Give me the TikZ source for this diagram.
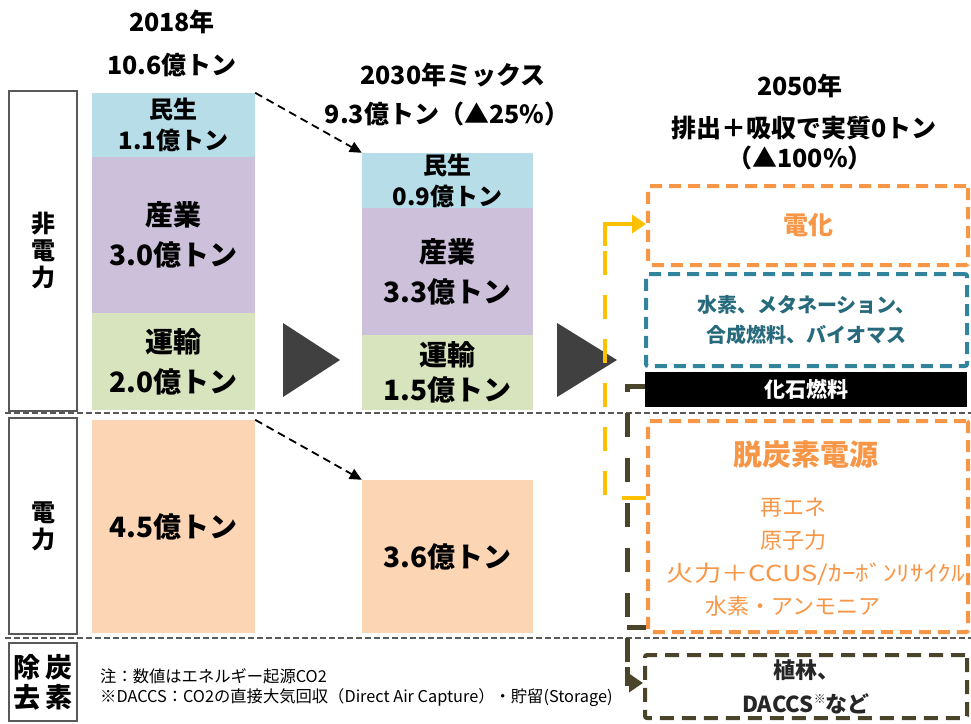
\documentclass[tikz,border=0pt]{standalone}
\usepackage{fontspec}
\setmainfont{Noto Sans CJK JP}
\usetikzlibrary{arrows.meta}
\definecolor{cblue}{HTML}{B7DDE8}
\definecolor{clav}{HTML}{CCC0DA}
\definecolor{cgreen}{HTML}{D7E4BD}
\definecolor{cpeach}{HTML}{FCD5B5}
\definecolor{corange}{HTML}{F79646}
\definecolor{cteal}{HTML}{31849B}
\definecolor{ctealtxt}{HTML}{276A7C}
\definecolor{colive}{HTML}{4A452A}
\definecolor{cyellow}{HTML}{FFC000}
\definecolor{cgray}{HTML}{595959}
\definecolor{ctri}{HTML}{404040}
\newcommand\fsz[2]{\fontsize{#1}{#2}\selectfont}
\begin{document}
\begin{tikzpicture}[x=1pt,y=-1pt,
  lbl/.style={draw=cgray, line width=2pt, inner sep=0pt, align=center, font=\bfseries\fsz{24}{27}},
  bar/.style={draw=none, inner sep=0pt, align=center, minimum width=163pt},
  barb/.style={draw=none, inner sep=0pt, align=center, minimum width=171pt},
  small/.style={font=\bfseries\fsz{24}{31}},
  big/.style={font=\bfseries\fsz{28}{40}},
  hdr/.style={inner sep=0pt, font=\bfseries\fsz{25}{28}},
  obox/.style={draw=corange, line width=4pt, dash pattern=on 12pt off 7pt, rounded corners=2pt, inner sep=0pt},
  tbox/.style={draw=cteal, line width=4pt, dash pattern=on 12pt off 7pt, rounded corners=2pt, inner sep=0pt},
  gbox/.style={draw=colive, line width=4pt, dash pattern=on 14pt off 8pt, rounded corners=2pt, inner sep=0pt},
  tri/.style={fill=ctri},
  sep/.style={draw=cgray, line width=1.5pt, dash pattern=on 6pt off 3pt},
  darr/.style={draw=black, line width=1.8pt, dash pattern=on 8pt off 5pt, -{Triangle[length=12pt,width=11pt]}},
  ycon/.style={draw=cyellow, line width=4.5pt, dash pattern=on 24pt off 20pt},
  ocon/.style={draw=colive, line width=5pt, dash pattern=on 24pt off 21pt},
  note/.style={inner sep=0pt, anchor=west, font=\fsz{16.3}{20}}
]
\useasboundingbox (0,0) rectangle (971,723);

% separators
\draw[sep] (5,413) -- (971,413);
\draw[sep] (5,638) -- (971,638);

% left labels
\node[lbl, minimum width=68pt, minimum height=320pt] (lab1) at (43,251) {非\\電\\力};
\node[lbl, minimum width=68pt, minimum height=216pt] (lab2) at (43,526) {電\\力};
\node[lbl, minimum width=68pt, minimum height=78pt, font=\bfseries\fsz{27}{30}] (lab3) at (43,682) {除\hspace{5pt}炭\\去\hspace{5pt}素};

% headers
\node[hdr] (h18a) at (172,22) {2018年};
\node[hdr] (h18b) at (172,65) {10.6億トン};
\node[hdr] (h30a) at (453,75) {2030年ミックス};
\node[hdr] (h30b) at (447,114) {9.3億トン（▲25\%）};
\node[hdr] (h50a) at (800,86) {2050年};
\node[hdr] (h50b) at (804,128) {排出＋吸収で実質0トン};
\node[hdr] (h50c) at (800,158) {（▲100\%）};

% 2018 bars
\node[bar, fill=cblue, minimum height=64pt, small] (b18a) at (173.5,125) {民生\\1.1億トン};
\node[bar, fill=clav, minimum height=156pt, big] (b18b) at (173.5,235) {産業\\3.0億トン};
\node[bar, fill=cgreen, minimum height=97pt, big] (b18c) at (173.5,361.5) {運輸\\2.0億トン};
\node[bar, fill=cpeach, minimum height=213pt, big] (b18e) at (173.5,526.5) {4.5億トン};

% 2030 bars
\node[barb, fill=cblue, minimum height=55pt, small] (b30a) at (447.5,180.5) {民生\\0.9億トン};
\node[barb, fill=clav, minimum height=127pt, big] (b30b) at (447.5,271.5) {産業\\3.3億トン};
\node[barb, fill=cgreen, minimum height=75pt, font=\bfseries\fsz{28}{35}] (b30c) at (447.5,372.5) {運輸\\1.5億トン};
\node[barb, fill=cpeach, minimum height=153pt, big] (b30e) at (447.5,556.5) {3.6億トン};

% dashed arrows
\draw[darr] (b18a.north east) -- (b30a.north west);
\draw[darr] (b18e.north east) -- (b30e.north west);

% big triangles
\fill[tri] (283,323) -- (340,360) -- (283,397) -- cycle;
\fill[tri] (557,323) -- (617,360) -- (557,397) -- cycle;

% 2050 boxes
\node[obox, minimum width=320pt, minimum height=79pt, text=corange, font=\bfseries\fsz{25}{28}] (elec) at (808,225.5) {電化};
\node[tbox, minimum width=321pt, minimum height=92pt, text=ctealtxt, align=center, font=\bfseries\fsz{20}{30}] (h2) at (806.5,320) {水素、メタネーション、\\合成燃料、バイオマス};
\node[fill=black, minimum width=322pt, minimum height=35pt, inner sep=0pt, text=white, font=\bfseries\fsz{21}{24}] (fossil) at (806,389.5) {化石燃料};
\node[obox, minimum width=320pt, minimum height=211pt] (decarb) at (808,526.5) {};
\node[inner sep=0pt, text=corange, font=\bfseries\fsz{29}{32}] (dtitle) at (806,455) {脱炭素電源};
\node[inner sep=0pt, text=corange, align=center, font=\fsz{22}{33}] (dlist) at (793,557.5) {再エネ\\原子力\\\hspace*{46pt}\scalebox{1.24}[1]{火力＋CCUS/ｶｰﾎﾞﾝﾘｻｲｸﾙ}\\水素・アンモニア};
\node[gbox, minimum width=322pt, minimum height=63pt, align=center, text=black!85, font=\bfseries\fsz{22}{34}] (plant) at (806,686.5) {植林、\\DACCS\raisebox{9pt}{\fsz{12}{12}\mdseries ※}など};

% connectors
\coordinate (yb) at (605,498);
\coordinate (yt) at (605,224);
\draw[ycon] (decarb.west |- yb) -- (yb) -- ([yshift=-20pt]yt);
\draw[cyellow, line width=4.5pt, -{Triangle[length=14pt,width=18pt]}] ([yshift=-22pt]yt) -- (yt) -- (elec.west |- yt);

\coordinate (ot) at (627,386);
\coordinate (om) at (627,627);
\coordinate (ob) at (627,683);
\draw[ocon] (fossil.west |- ot) -- (ot) -- (ob);
\draw[colive, line width=5pt] (om) -- (decarb.west |- om);
\draw[colive, line width=5pt, -{Triangle[length=14pt,width=18pt]}] ([yshift=16pt]ob) -- (ob) -- (plant.west |- ob);

% notes
\node[note] (n1) at (100,676) {注：数値はエネルギー起源CO2};
\node[note] (n2) at (100,698) {※DACCS：CO2の直接大気回収（Direct Air Capture）・貯留(Storage)};
\end{tikzpicture}
\end{document}
